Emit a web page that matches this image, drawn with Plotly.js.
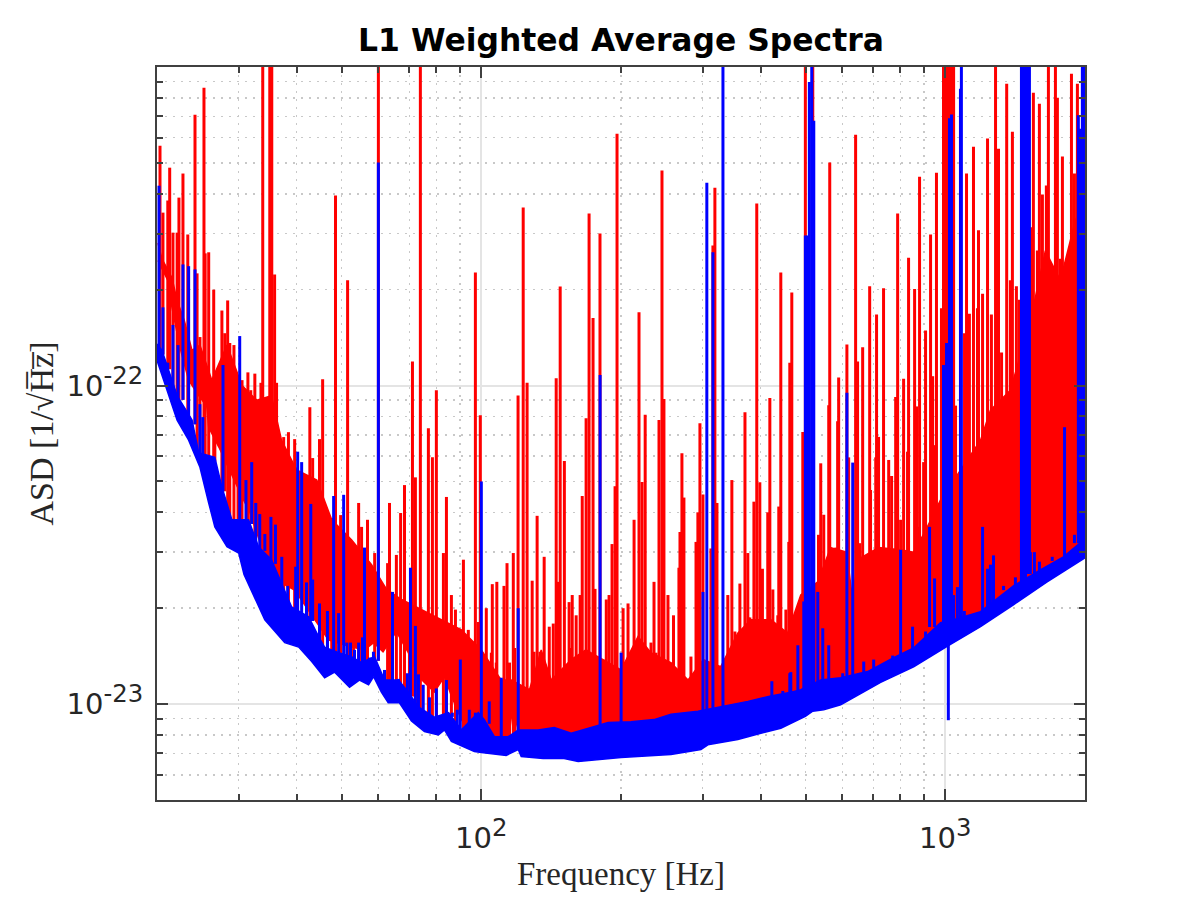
<!DOCTYPE html>
<html>
<head>
<meta charset="utf-8">
<script src="https://cdn.plot.ly/plotly-3.0.1.min.js"></script>
<style>html,body{margin:0;padding:0;background:#fff}#chart{width:1200px;height:900px}</style>
</head>
<body>
<div id="chart"></div>
<script>
// ASD values are in units of 1e-23 / sqrt(Hz); frequencies in Hz
const asdUnit = 1e-23;
const offScale = 130;

const blueFloorFreq = [20,20.5,21.54,22.1,23.4,24.75,25.85,26.65,28.3,30,30.8,32,34.15,37.7,40.4,43.1,45.95,48.3,52,54.6,57.15,58.6,60.9,63,66.6,70.7,75.4,80.8,83.3,86.2,96.6,100,113.1,120.1,121.9,135.9,150.8,161.7,200.1,256.3,297.4,307.8,357.2,400.3,442,499.3,518,547,595,725.4,854.5,1011,1191,1402,1651,2000];
const blueFloorAsd = [12,10.77,8.67,7.79,6.74,5.54,4.28,3.6,3.12,2.98,2.55,2.25,1.84,1.56,1.51,1.36,1.21,1.26,1.13,1.19,1.15,1.22,1.09,1.01,1.01,.885,.82,.8,.83,.763,.71,.705,.69,.72,.685,.675,.675,.66,.68,.695,.72,.745,.774,.81,.84,.915,.95,.96,.995,1.17,1.31,1.52,1.75,2.05,2.41,2.88];

const blueTopFreq = [20,20.5,21,22.1,23.8,24.6,26.65,27.6,29,31.5,33.1,35.3,39,42.45,44.6,45.95,49.25,52.5,55.2,58.85,61.85,66.3,69.6,73.2,79.2,85,90.6,98.5,101.5,106.7,114.3,120.1,132.6,143.6,156.2,172.4,187.6,210.2,235.6,256.3,293,333.4,375.3,420.7,464.5,488.1,538.9,595,680,773.7,854.5,976.5,1042,1191,1402,1603,1797,2000];
const blueTopAsd = [13.5,12.9,11.6,9.3,7.79,6.15,5.95,4.8,3.79,3.79,3.12,2.84,2.02,1.88,1.63,1.51,1.45,1.41,1.35,1.41,1.19,1.19,1.09,.98,.91,.94,.83,.94,.894,.79,.79,.83,.83,.845,.81,.845,.875,.88,.894,.93,.95,.985,1.02,1.06,1.09,1.11,1.19,1.21,1.265,1.4,1.5,1.8,1.84,1.95,2.35,2.64,2.9,3.3];

const redLowFreq = [20.1,20.5,21.1,21.54,22.4,23.4,24.6,25.6,25.85,27.2,29,30.5,31.7,33.6,37.1,39.6,45.3,46.8,51.8,56,58.6,61.4,65.6,69.6,73.2,79.2,83.3,86.2,90.6,96.6,100,113.1,115.4,117.2,119,121.3,128,200,300,500,1000,1500,2000];
const redLowAsd = [24.7,23.4,21.4,17.6,13.2,10.4,9.3,8.6,7.4,6.4,5.2,4.47,4,3.12,2.4,2.28,1.71,1.59,1.52,1.48,1.56,1.46,1.69,1.45,1.22,1.09,1.22,1.06,.894,.774,.75,.78,.85,1.02,.87,.8,.75,.72,.8,1,1.6,2.3,3];

const redHighFreq = [20.1,20.5,21.54,22.1,22.9,23.8,24.75,26.26,28.3,30.5,32.8,35.3,37.1,40,44.2,47.6,52.5,58,62.5,67.3,74.3,82,90.6,100,110.4,116,127,134.6,141.5,156.2,168,183,200,217.6,232,256,279,301,328,357,381,421,457,488,531,566,613,631,647,718,801,854,906,976,1078,1191,1251,1381,1525,1643,1770,1907,2000];
const redHighAsd = [28,25,21.8,18.5,16,12.9,13.4,10.4,13.4,10,9,9.3,6.74,5.43,5.05,3.79,3.28,2.74,2.29,2.13,1.98,1.84,1.71,1.48,1.19,1.19,1.11,1.48,1.19,1.38,1.48,1.38,1.28,1.63,1.45,1.35,1.19,1.38,1.31,1.67,1.84,1.84,1.67,2.2,2.42,3.1,3.0,2.13,2.84,3.1,3.05,3.0,3.5,4.37,5.43,6.74,8.37,9.67,16,26.5,21.4,33,38];

const redLineFreq = [20.3,20.6,21.1,21.3,21.65,22.1,22.3,22.75,23.3,24.15,24.4,24.75,25.25,25.4,25.85,26.5,26.65,27.6,28,28.4,28.7,29.3,29.9,30.5,31.4,31.85,32.5,33.5,33.8,34.5,35,35.35,35.85,36.2,37.5,38.4,39.6,42.7,43.3,44.8,45.5,46.6,47.6,48.5,49.75,51.5,53.05,54.4,55.2,56.85,58.9,60,62.8,63.4,65.6,67,68.3,70,71.05,72.1,73.9,76.9,78.45,80,82.85,84.1,86.2,87.95,91.5,93.75,97.1,98.5,99.5,102.5,105.6,108,111.9,113.6,117.2,120,123.1,125.5,128.7,131.9,136.6,140.1,142.9,145,147.9,151,154.6,157,160.1,163.3,165,168.2,170.7,174.1,175.8,180.2,185.9,188.5,191.3,194.2,196.1,202.1,207.1,213.4,218.7,222,225.5,235.6,241.5,245.1,247.5,252.5,259.5,266.6,268,270.6,273.3,283,292.9,295.9,300.4,312.5,315.6,318.7,322,339.8,346.7,352,360.8,370,375.3,379.1,386.8,392.3,398.3,403.5,414.3,418.6,424.9,437.6,442,453.3,459.9,462.2,466.8,499.3,518,560.7,563.5,586,589,613.6,640.7,647,663.5,687,710.9,736,781.6,789.3,813,833.3,858.6,867,880,906.6,929.4,939,957,981,991,1001,1011,1021,1031,1042,1052,1100,1111,1127,1150,1173,1179,1203,1233,1257,1283,1302,1322,1356,1381,1395,1423,1445,1533,1548,1579,1595,1619,1651,1668,1700,1727,1744,1770,1788,1824,1842,1870,1898,1926,493,533,538.9,547,572,580.7,619,654,673,690,708,718,755,766,801,829,854,876,898,943,96.6,105.1,107.7,115,118,129.9,133.8,146.6,156.2,169.8,183,210.2,232.1,237.9,256.3,290.2,325,353.7,365.9,377,404,435.5];
const redLineAsd = [56.6,34.9,38.1,48.3,30.2,30.2,38.9,46.3,29.8,70.8,22.5,14.2,86,26,26.2,20,10.9,17.2,14.6,18.5,13.6,13.4,7.68,10.4,11,9.67,10.9,10.2,offScale,9,offScale,offScale,22.3,10.2,6.89,7.14,6.79,8.55,5.92,6.79,10.47,3.87,3.84,39.5,3.92,21.4,2.98,4.28,3.6,3.79,2.98,offScale,2.77,4.28,2.94,3.98,4.87,1.98,11.9,5.15,offScale,7.35,5.96,9.67,2.98,4.47,2.2,1.98,2.84,1.71,22.65,1.81,8.07,2,2.38,2.42,2.35,2.77,2.98,9.3,36.2,10.2,2.44,3.9,2.9,1.75,1.79,10.55,20.45,5.8,2.09,2.2,1.9,2.2,4.5,7.9,34.7,16.3,2.3,30,2.13,2.2,3.18,4.83,61.7,2,2.07,3.79,17,4.98,8.1,2.42,7.79,47.3,9.07,2.2,1.9,2.68,3.47,6.13,4.45,1.41,4,7.62,4.55,3.08,27.5,41.8,4.28,2.2,5.05,1.69,2.39,8.25,2.98,1.87,4.32,37.3,4.97,2.66,4,9.14,2.29,4.17,22.65,1.98,3.23,11.8,19.6,offScale,offScale,8.67,50.1,7.73,10.6,13.45,61.3,11.9,13.2,20.5,16.7,20.2,9.2,34.7,10.5,25.2,20.1,8.6,45.2,14.9,29.8,10.7,46.6,17.5,offScale,offScale,offScale,offScale,offScale,offScale,8.65,14.6,46.3,16.8,56.2,17.5,30.7,19.4,59.6,16.7,offScale,55.4,12.7,88.6,21.4,62.6,20.5,18.6,31.4,83,26.55,76.7,39.8,42.5,offScale,18.2,offScale,80,25,52.4,22.8,24.9,95.2,46.3,88.6,7.15,3.4,5.7,3.93,3.05,3.1,5.95,3.2,2.7,4.7,5.95,6.9,5.84,5.2,3.79,6.2,3,3.6,5.75,6.5,1.57,1.45,1.35,1.35,1.5,1.46,1.46,2.42,1.5,1.48,1.38,1.3,1.56,1.45,1.35,3.23,1.31,1.41,1.63,1.87,1.84,1.9];

const blueLineFreq = [20.2,20.6,21.1,21.65,22.2,22.75,23.4,24.15,24.75,25.1,27.75,30.15,31.1,32,32.65,33.3,34.15,35.2,36,37.15,38.25,39.8,40.2,41,42,42.9,43.3,44.8,46.6,48.05,49.25,50.5,51.3,52.25,53.3,54.4,55.45,56,57.4,58.55,60,61.85,64.35,66.3,69.3,70.35,72.1,73.2,74.95,77.3,80,84.1,86.6,88.75,90.1,94.2,97.1,100,104,110.4,120.1,180.3,200.1,300.4,306.2,315.6,331.7,422.8,446.4,462.2,464.5,481,495.4,499.3,504.3,509.3,515.4,520.6,531,544.3,560.7,601,613.6,631.6,667,700.8,770,801,850,906.6,924.8,948,962,991,1006,1015,1021,1031,1042,1062,1078,1083,1099,1203,1233,1251,1270,1302,1335,1381,1416,1459,1474,1489,1503,1518,1525,1556,1595,1700,1807,1898,1935,1954,1974,1993];
const blueLineAsd = [42.4,17.6,11.8,15.5,13.4,24,23.7,23.15,8.74,7.96,11.6,14.3,5.05,5.75,4.28,3.95,3.42,3.87,3.66,2.9,2.35,2.7,6.2,5.75,2.41,4.25,2.46,2.07,1.96,4.5,1.93,4.54,1.56,1.56,1.48,1.56,1.62,3.1,1.4,1.46,50.1,1.28,2.25,1.2,1.25,2.68,1.76,1.24,1.15,1.05,1.12,1.19,.94,.96,1.38,.96,.94,5,1.02,1.21,2,10.8,1.45,2.25,43.3,26.2,offScale,1.18,1.1,1.25,1.26,1.53,2.1,29.6,29.6,89.8,offScale,67.8,2.25,1.73,1.53,1.25,9.5,5.73,1.36,1.38,1.42,3.05,1.75,1.69,3.6,2.48,1.71,11.6,13.6,.89,69,71,2.2,2.33,85.5,offScale,1.96,3.6,2.66,2.74,2.93,2.28,2.35,2.25,2.5,offScale,offScale,offScale,offScale,offScale,3,3,2.8,2.9,7.4,3.4,70.5,64,offScale,offScale];

const xMajorTicks = [100,1000];
const xMajorLabels = ['10<sup><span style="font-size:120%">2</span></sup>','10<sup><span style="font-size:120%">3</span></sup>'];
const xMinorTicks = [30,40,50,60,70,80,90,200,300,400,500,600,700,800,900,2000];
const yMajorTicks = [1e-23,1e-22];
const yMajorLabels = ['10<sup><span style="font-size:120%">-23</span></sup>','10<sup><span style="font-size:120%">-22</span></sup>'];
const yMinorTicks = [6e-24,7e-24,8e-24,9e-24,2e-23,3e-23,4e-23,5e-23,6e-23,7e-23,8e-23,9e-23,2e-22,3e-22,4e-22,5e-22,6e-22,7e-22,8e-22,9e-22];

const titleText = 'L1 Weighted Average Spectra';
const xTitleText = 'Frequency [Hz]';
const yTitleText = 'ASD [1/\u221AH\u0305z\u0305]';

function scale(a){ return a.map(v => v * asdUnit); }
function bandTrace(lowF, lowA, highF, highA, color){
  return {
    x: lowF.concat(highF.slice().reverse()),
    y: scale(lowA.concat(highA.slice().reverse())),
    mode: 'lines', fill: 'toself', fillcolor: color,
    line: {color: color, width: 1.5}, hoverinfo: 'skip'
  };
}
function spikeTrace(freqs, asds, color){
  const xs = [], ys = [];
  freqs.forEach((f, i) => {
    let best = 0;
    blueTopFreq.forEach((b, j) => {
      if (Math.abs(Math.log(b / f)) < Math.abs(Math.log(blueTopFreq[best] / f))) best = j;
    });
    xs.push(f, f, null);
    ys.push(blueTopAsd[best] * asdUnit * 0.97, asds[i] * asdUnit, null);
  });
  return {x: xs, y: ys, mode: 'lines', line: {color: color, width: 3}, hoverinfo: 'skip'};
}

const traces = [
  bandTrace(redLowFreq, redLowAsd, redHighFreq, redHighAsd, '#ff0000'),
  spikeTrace(redLineFreq, redLineAsd, '#ff0000'),
  bandTrace(blueFloorFreq, blueFloorAsd, blueTopFreq, blueTopAsd, '#0000ff'),
  spikeTrace(blueLineFreq, blueLineAsd, '#0000ff')
];

const axisBase = {
  type: 'log', showline: true, linecolor: '#404040', linewidth: 2, mirror: 'allticks',
  ticks: 'inside', ticklen: 11, tickwidth: 2, tickcolor: '#404040',
  tickmode: 'array', showgrid: true, gridcolor: '#e4e4e4', gridwidth: 2, zeroline: false,
  tickfont: {family: 'DejaVu Sans', size: 29, color: '#262626'}
};
const minorBase = {
  tickmode: 'array', ticks: 'inside', ticklen: 6, tickwidth: 2, tickcolor: '#404040',
  showgrid: true, gridcolor: '#c8c8c8', gridwidth: 1.5, griddash: '2px,6px'
};

const layout = {
  width: 1200, height: 900, showlegend: false,
  paper_bgcolor: '#fff', plot_bgcolor: '#fff',
  margin: {l: 156.5, r: 114.5, t: 66.5, b: 99.5, pad: 0},
  title: {text: titleText, x: 0.5175, xanchor: 'center', y: 0.956, yanchor: 'middle',
          font: {family: 'DejaVu Sans', size: 31.4, color: '#000', weight: 'bold'}},
  xaxis: Object.assign({}, axisBase, {
    range: [Math.log10(20), Math.log10(2000)],
    tickvals: xMajorTicks, ticktext: xMajorLabels, ticklabelstandoff: 11,
    minor: Object.assign({}, minorBase, {tickvals: xMinorTicks}),
    title: {text: xTitleText, standoff: 8, font: {family: 'Liberation Serif', size: 33, color: '#262626'}}
  }),
  yaxis: Object.assign({}, axisBase, {
    range: [Math.log10(5e-24), -21],
    tickvals: yMajorTicks, ticktext: yMajorLabels, ticklabelstandoff: 6,
    minor: Object.assign({}, minorBase, {tickvals: yMinorTicks}),
    title: {text: yTitleText, standoff: 3, font: {family: 'Liberation Serif', size: 34, color: '#262626'}}
  })
};

Plotly.newPlot('chart', traces, layout, {staticPlot: true, displayModeBar: false});
</script>
</body>
</html>
